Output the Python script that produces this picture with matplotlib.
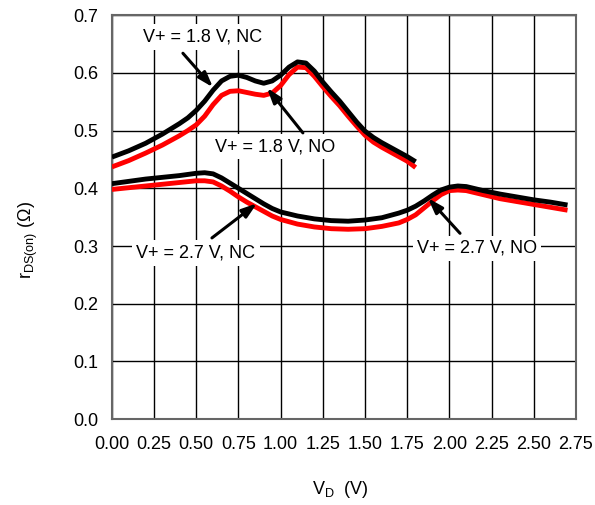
import matplotlib.pyplot as plt

plt.rcParams['font.family'] = ['Liberation Sans', 'DejaVu Sans']
plt.rcParams['mathtext.fontset'] = 'custom'
plt.rcParams['mathtext.rm'] = 'Liberation Sans'
plt.rcParams['mathtext.it'] = 'Liberation Sans'

# V+ = 1.8 V curves
vd_18 = [0.00, 0.10, 0.20, 0.30, 0.40, 0.45, 0.50, 0.55, 0.60, 0.65, 0.70, 0.75, 0.80,
         0.85, 0.90, 0.95, 1.00, 1.05, 1.10, 1.15, 1.20, 1.25, 1.30, 1.35, 1.40,
         1.45, 1.50, 1.55, 1.60, 1.65, 1.70, 1.75, 1.80]
r_18_nc = [0.454, 0.465, 0.478, 0.494, 0.512, 0.522, 0.535, 0.551, 0.570, 0.586, 0.594, 0.596, 0.592,
           0.586, 0.582, 0.586, 0.596, 0.610, 0.619, 0.617, 0.603, 0.584, 0.567, 0.551, 0.533,
           0.515, 0.499, 0.488, 0.479, 0.471, 0.463, 0.455, 0.446]
r_18_no = [0.437, 0.448, 0.461, 0.475, 0.491, 0.500, 0.510, 0.525, 0.545, 0.561, 0.568, 0.569, 0.566,
           0.563, 0.561, 0.565, 0.578, 0.597, 0.610, 0.609, 0.594, 0.576, 0.559, 0.543, 0.525,
           0.508, 0.492, 0.480, 0.471, 0.463, 0.455, 0.447, 0.436]

# V+ = 2.7 V curves
vd_27 = [0.00, 0.10, 0.20, 0.30, 0.40, 0.50, 0.55, 0.60, 0.65, 0.70, 0.75, 0.80,
         0.85, 0.90, 0.95, 1.00, 1.10, 1.20, 1.30, 1.40, 1.50, 1.60, 1.70, 1.75,
         1.80, 1.85, 1.90, 1.95, 2.00, 2.05, 2.10, 2.20, 2.30, 2.40, 2.50, 2.60, 2.70]
r_27_nc = [0.408, 0.412, 0.416, 0.419, 0.422, 0.426, 0.427, 0.425, 0.418, 0.409, 0.400, 0.391,
           0.382, 0.373, 0.365, 0.359, 0.352, 0.347, 0.344, 0.343, 0.345, 0.349, 0.357, 0.362,
           0.369, 0.378, 0.388, 0.397, 0.402, 0.404, 0.403, 0.396, 0.390, 0.385, 0.380, 0.376, 0.371]
r_27_no = [0.398, 0.401, 0.404, 0.407, 0.410, 0.413, 0.413, 0.411, 0.404, 0.395, 0.385, 0.376,
           0.368, 0.360, 0.352, 0.346, 0.338, 0.333, 0.330, 0.329, 0.330, 0.334, 0.340, 0.346,
           0.354, 0.366, 0.378, 0.389, 0.396, 0.397, 0.396, 0.389, 0.382, 0.377, 0.372, 0.367, 0.362]

x_ticks = [0.0, 0.25, 0.5, 0.75, 1.0, 1.25, 1.5, 1.75, 2.0, 2.25, 2.5, 2.75]
y_ticks = [0.0, 0.1, 0.2, 0.3, 0.4, 0.5, 0.6, 0.7]

# label text, text position, arrow tail, arrow head
notes = [
    ("V+ = 1.8 V, NC", (0.54, 0.662), (0.421, 0.634), (0.599, 0.575)),
    ("V+ = 1.8 V, NO", (0.966, 0.472), (1.132, 0.496), (0.919, 0.574)),
    ("V+ = 2.7 V, NC", (0.498, 0.288), (0.593, 0.314), (0.860, 0.374)),
    ("V+ = 2.7 V, NO", (2.164, 0.296), (2.063, 0.322), (1.873, 0.383)),
]

fig = plt.figure(figsize=(5.95, 5.05), dpi=100)
ax = fig.add_axes([0.188, 0.170, 0.780, 0.800])

line_kw = dict(lw=3.5, solid_capstyle='butt', solid_joinstyle='round')
ax.plot(vd_18, r_18_no, color='#ff0000', zorder=3, **line_kw)
ax.plot(vd_18, r_18_nc, color='black', zorder=4, **line_kw)
ax.plot(vd_27, r_27_no, color='#ff0000', zorder=3, **line_kw)
ax.plot(vd_27, r_27_nc, color='black', zorder=4, **line_kw)

for txt, pos, tail, head in notes:
    ax.text(pos[0], pos[1], txt, fontsize=13, ha='center', va='center', zorder=5,
            bbox=dict(facecolor='white', edgecolor='none', pad=3))
    ax.annotate('', xy=head, xytext=tail, zorder=6,
                arrowprops=dict(arrowstyle='-|>,head_length=0.9,head_width=0.3',
                                color='black', lw=2.2, shrinkA=0, shrinkB=0))

ax.set_xlim(0, 2.75)
ax.set_ylim(0, 0.7)
ax.set_xticks(x_ticks)
ax.set_xticklabels(['%.2f' % v for v in x_ticks])
ax.set_yticks(y_ticks)
ax.set_yticklabels(['%.1f' % v for v in y_ticks])
ax.tick_params(length=0, labelsize=13)
ax.tick_params(axis='x', pad=12)
ax.tick_params(axis='y', pad=10)
ax.grid(True, color='black', lw=1.0, zorder=1)
ax.set_axisbelow(True)
for s in ax.spines.values():
    s.set_color('#666666')
    s.set_linewidth(1.5)

fig.text(0.572, 0.030, r'V$_{\mathrm{D}}$  (V)', fontsize=13, ha='center', va='center')
fig.text(0.047, 0.525, r'r$_{\mathrm{DS(on)}}$ ($\Omega$)', fontsize=13, rotation=90,
         ha='center', va='center')

fig.savefig('out.png', dpi=100)
